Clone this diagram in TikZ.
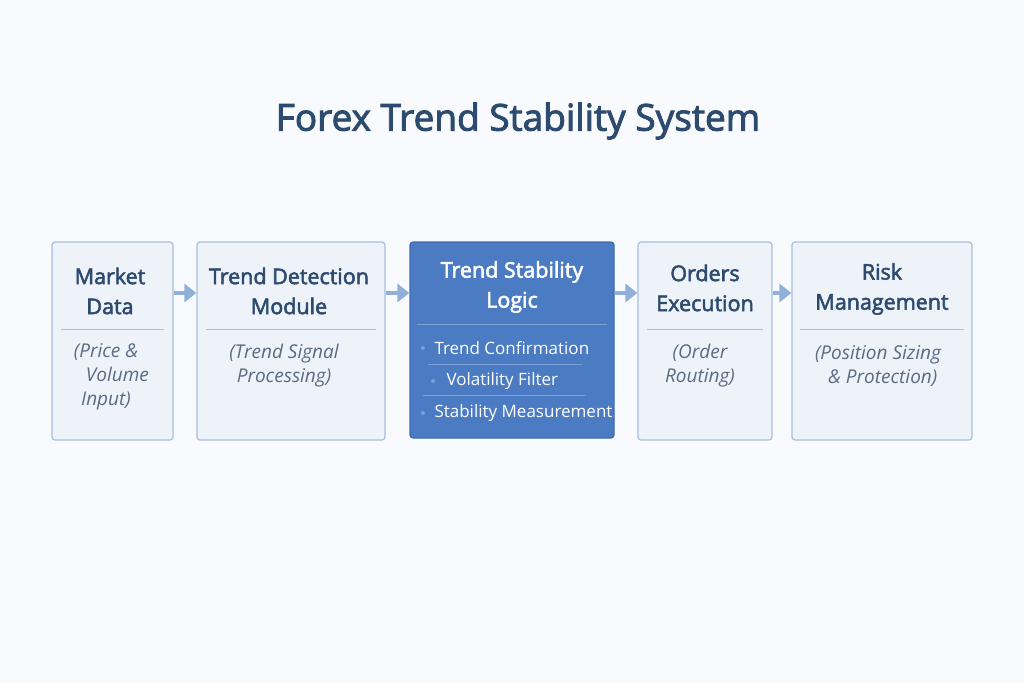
\documentclass[tikz,border=0pt]{standalone}
\usepackage{fontspec}
\setmainfont{Open Sans}
\usetikzlibrary{arrows.meta,positioning}

\definecolor{pagebg}{HTML}{F8FAFD}
\definecolor{boxfill}{HTML}{EEF3FA}
\definecolor{boxline}{HTML}{A8BFDD}
\definecolor{hotfill}{HTML}{4B7BC3}
\definecolor{hotline}{HTML}{3E6BB1}
\definecolor{hotrule}{HTML}{7A9FD6}
\definecolor{titleblue}{HTML}{2D4B6F}
\definecolor{subgray}{HTML}{5A6B82}
\definecolor{arrowblue}{HTML}{8FB0D9}

\newfontfamily\headfont{Open Sans}[FakeBold=2.5]

\tikzset{
  modbox/.style={draw=boxline, fill=boxfill, line width=1.2pt, rounded corners=3pt,
    minimum height=198pt, inner sep=0pt},
  hotbox/.style={modbox, draw=hotline, fill=hotfill},
  headtext/.style={text=titleblue, align=center,
    font=\headfont\fontsize{21.5}{30}\selectfont},
  subtext/.style={text=subgray, align=center, font=\fontsize{19}{24}\selectfont\itshape},
  bullettext/.style={text=white, font=\fontsize{17}{20}\selectfont},
  flow/.style={draw=arrowblue, line width=4pt, -{Triangle[length=12pt,width=18pt]}},
  rule/.style={draw=boxline, line width=0.8pt}
}

\begin{document}
\begin{tikzpicture}[x=1pt,y=-1pt]

  \fill[pagebg] (0,0) rectangle (1024,683);
  \useasboundingbox (0,0) rectangle (1024,683);

  \node[text=titleblue, font=\headfont\fontsize{37}{42}\selectfont] (title) at (518,121) {Forex Trend Stability System};

  % boxes
  \node[modbox, minimum width=121pt] (mkt) at (112.5,341) {};
  \node[modbox, minimum width=188pt] (det) at (291,341) {};
  \node[hotbox, minimum width=204pt, minimum height=196pt] (stab) at (512,340) {};
  \node[modbox, minimum width=134pt] (ord) at (705,341) {};
  \node[modbox, minimum width=180pt] (risk) at (882,341) {};

  % headings
  \node[headtext] (mkthead) at (110,291) {Market\\Data};
  \node[headtext] (dethead) at (289,291) {Trend Detection\\Module};
  \node[headtext, text=white] (stabhead) at (512,287) {Trend Stability\\Logic};
  \node[headtext] (ordhead) at (705,288) {Orders\\Execution};
  \node[headtext] (riskhead) at (882,289) {Risk\\Management};

  % rules under headings
  \draw[rule] ([xshift=10pt]mkt.west |- 0,329) -- ([xshift=-10pt]mkt.east |- 0,329);
  \draw[rule] ([xshift=10pt]det.west |- 0,329) -- ([xshift=-10pt]det.east |- 0,329);
  \draw[rule, draw=hotrule] ([xshift=8pt]stab.west |- 0,324) -- ([xshift=-8pt]stab.east |- 0,324);
  \draw[rule] ([xshift=10pt]ord.west |- 0,329) -- ([xshift=-10pt]ord.east |- 0,329);
  \draw[rule] ([xshift=9pt]risk.west |- 0,329) -- ([xshift=-9pt]risk.east |- 0,329);

  % sub texts
  \node[subtext] (mktsub) at (106,377) {(Price \&\\\hspace{1.2em}Volume\\Input)};
  \node[subtext] (detsub) at (284,366) {(Trend Signal\\Processing)};
  \node[subtext] (ordsub) at (700,366) {(Order\\Routing)};
  \node[subtext] (risksub) at (878,366) {(Position Sizing\\\hspace{0.5em}\& Protection)};

  % stability bullets
  \node[bullettext, anchor=west] (b1) at (431,348) {Trend Confirmation};
  \node[bullettext, anchor=west] (b2) at (443,381) {Volatility Filter};
  \node[bullettext, anchor=west] (b3) at (431,413) {Stability Measurement};
  \fill[hotrule] ([xshift=-8pt]b1.west) circle (2pt);
  \fill[hotrule] ([xshift=-10pt]b2.west) circle (2pt);
  \fill[hotrule] ([xshift=-8pt]b3.west) circle (2pt);
  \draw[rule, draw=hotrule, line width=0.5pt] (428,364) -- (582,364);
  \draw[rule, draw=hotrule, line width=0.5pt] (423,395) -- (586,395);

  % arrows
  \coordinate (row) at (0,293);
  \draw[flow] (mkt.east |- row) -- (det.west |- row);
  \draw[flow] (det.east |- row) -- (stab.west |- row);
  \draw[flow] (stab.east |- row) -- (ord.west |- row);
  \draw[flow] (ord.east |- row) -- (risk.west |- row);

\end{tikzpicture}
\end{document}
